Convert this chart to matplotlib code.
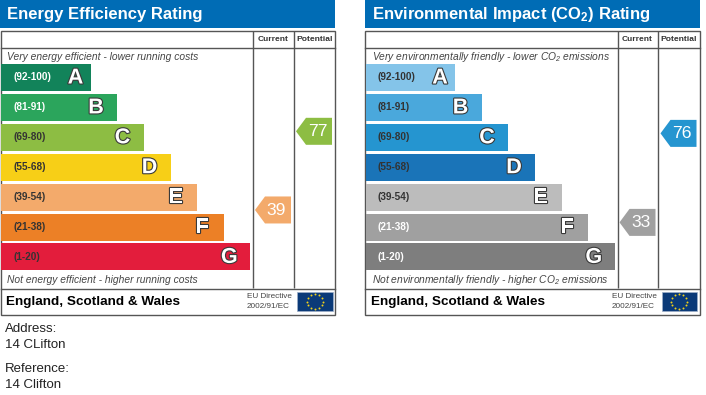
import numpy as np
import matplotlib
matplotlib.use("Agg")
import matplotlib.pyplot as plt
import matplotlib.patheffects as pe
from matplotlib.patches import Rectangle, Polygon

plt.rcParams['font.family'] = ['Liberation Sans', 'DejaVu Sans']
plt.rcParams['mathtext.default'] = 'regular'

bands = ['A', 'B', 'C', 'D', 'E', 'F', 'G']
ranges = ['(92-100)', '(81-91)', '(69-80)', '(55-68)', '(39-54)', '(21-38)', '(1-20)']
band_lengths = [89.5, 116, 142.5, 169.5, 196, 222.5, 249.3]
energy_colors = ['#12835a', '#2ba55c', '#8dbd43', '#f7cf17', '#f3aa6b', '#ec8026', '#e31d3c']
env_colors = ['#84c4e9', '#4aa8dc', '#2595d0', '#1a74b8', '#bcbcbc', '#a0a0a0', '#7e7e7e']
energy_current, energy_potential = 39, 77
env_current, env_potential = 33, 76
energy_title = 'Energy Efficiency Rating'
env_title = r'Environmental Impact (CO$_{2}$) Rating'
energy_top = 'Very energy efficient - lower running costs'
energy_bottom = 'Not energy efficient - higher running costs'
env_top = r'Very environmentally friendly - lower CO$_{2}$ emissions'
env_bottom = r'Not environmentally friendly - higher CO$_{2}$ emissions'
footer = 'England, Scotland & Wales'
directive = ['EU Directive', '2002/91/EC']
address_lines = ['Address:', '14 CLifton']
reference_lines = ['Reference:', '14 Clifton']

fig = plt.figure(figsize=(7.06, 3.95), dpi=100)
ax = fig.add_axes([0, 0, 1, 1])
ax.set_xlim(0, 706)
ax.set_ylim(395, 0)
ax.axis('off')

HEADER = '#006cb5'
LINE = '#555555'
DARK = '#333333'


def letter(v):
    lows = [92, 81, 69, 55, 39, 21, 1]
    for b, l in zip(bands, lows):
        if v >= l:
            return b
    return 'G'


def pointer(x0, x1, yc, col, value):
    h = 13.5
    ax.add_patch(Polygon([[x0, yc], [x0 + 10, yc - h], [x1, yc - h], [x1, yc + h], [x0 + 10, yc + h]],
                         closed=True, fc=col, ec='none', zorder=3))
    ax.text((x0 + x1) / 2 + 3.5, yc + 0.5, str(value), color='white', fontsize=12.6,
            ha='center', va='center', zorder=4)


def panel(ox, title, top, bottom, colors, current, potential, range_colors):
    ax.add_patch(Rectangle((ox - 0.5, 0), 335, 28, fc=HEADER, ec='none'))
    ax.text(ox + 6.5, 15, title, color='white', fontsize=12, fontweight='bold',
            va='center', ha='left')
    # frame
    ax.add_patch(Rectangle((ox, 30.5), 334.5, 284, fc='white', ec=LINE, lw=1))
    for x in (ox + 252.5, ox + 293):
        ax.plot([x, x], [30.5, 288], color=LINE, lw=1, solid_capstyle='butt')
    ax.plot([ox, ox + 334.5], [47.5, 47.5], color=LINE, lw=1)
    ax.plot([ox, ox + 334.5], [288.5, 288.5], color=LINE, lw=1)
    ax.text(ox + 272.5, 39.5, 'Current', fontsize=6.0, fontweight='bold', color=DARK, ha='center', va='center')
    ax.text(ox + 314, 39.5, 'Potential', fontsize=6.1, fontweight='bold', color=DARK, ha='center', va='center')
    ax.text(ox + 6.5, 56.5, top, fontsize=7.4, style='italic', color='#444444', va='center')
    ax.text(ox + 6.5, 280, bottom, fontsize=7.4, style='italic', color='#444444', va='center')
    ys = np.arange(len(bands)) * 29.9 + 77.5
    ax.barh(ys, band_lengths, height=27, left=ox + 0.5, color=colors, edgecolor='none', zorder=2)
    for y, w, b, r, rc in zip(ys, band_lengths, bands, ranges, range_colors):
        ax.text(ox + 12.5, y, r, fontsize=7.2, fontweight='bold', color=rc, va='center', zorder=3)
        off = 14.5 if b == 'A' else 20.5
        ax.text(ox + w - off, y + 0.5, b, fontsize=15.5, fontweight='bold', color='white', ha='center',
                va='center', zorder=3,
                path_effects=[pe.withStroke(linewidth=1.6, foreground='#3a3a3a')])
    cy = lambda v: 290.7 - 2.07 * v
    pointer(ox + 254.5, ox + 290.5, cy(current), colors[bands.index(letter(current))], current)
    pointer(ox + 295.5, ox + 331.5, cy(potential), colors[bands.index(letter(potential))], potential)
    # footer
    ax.text(ox + 6, 302, footer, fontsize=9.7, fontweight='bold', color='black', va='center')
    ax.text(ox + 246.5, 297, directive[0], fontsize=5.9, color='#444444', va='center')
    ax.text(ox + 246.5, 306.5, directive[1], fontsize=5.9, color='#444444', va='center')
    ax.add_patch(Rectangle((ox + 296.5, 292), 35.5, 19, fc='#0b3a78', ec='#9fb0c8', lw=0.5, zorder=3))
    a = np.linspace(0, 2 * np.pi, 12, endpoint=False)
    ax.scatter(ox + 314.3 + 8 * np.cos(a), 301.5 + 7.5 * np.sin(a), s=2, c='#f2d21a', marker='o',
               linewidths=0, zorder=4)


panel(0.5, energy_title, energy_top, energy_bottom, energy_colors, energy_current, energy_potential,
      ['white', 'white', '#333333', '#333333', '#333333', '#333333', '#333333'])
panel(365, env_title, env_top, env_bottom, env_colors, env_current, env_potential,
      ['#333333', '#333333', '#333333', '#333333', '#333333', 'white', 'white'])

for y, s in zip([329, 345], address_lines):
    ax.text(5, y, s, fontsize=9.5, color='#222222', va='center')
for y, s in zip([369, 385], reference_lines):
    ax.text(5, y, s, fontsize=9.5, color='#222222', va='center')

fig.savefig('out.png', dpi=100, facecolor='white')
